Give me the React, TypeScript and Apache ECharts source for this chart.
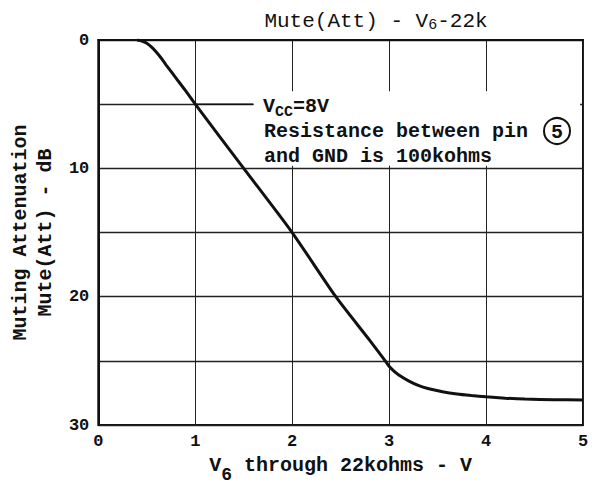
import { useEffect, useRef } from 'react';
import * as echarts from 'echarts';

// Curve: V6 (V) vs muting attenuation (dB)
const voltage = [0.4, 0.45, 0.5, 0.55, 0.6, 0.65, 0.7, 0.8, 0.9, 1.0, 1.5, 2.0, 2.45, 2.8, 2.96, 3.0, 3.05, 3.1, 3.2, 3.3, 3.4, 3.55, 3.7, 3.85, 4.0, 4.2, 4.4, 4.7, 5.0];
const attenuation = [0, 0.08, 0.25, 0.55, 0.95, 1.42, 1.95, 2.95, 3.95, 5.0, 10.0, 15.0, 20.0, 23.4, 25.0, 25.42, 25.8, 26.1, 26.55, 26.9, 27.15, 27.4, 27.58, 27.7, 27.8, 27.9, 27.97, 28.02, 28.05];
const yLabelValues = [0, 10, 20, 30];
// annotation leader line and its blank text area (data coords)
const leaderX = [1.0, 1.6];
const leaderY = [5, 5];
const noteBoxX = [1.6, 4.97];
const noteBoxY = [4.0, 9.8];
const noteLines = ['Resistance between pin', 'and GND is 100kohms'];

const FONT = 'Liberation Mono';
const INK = '#111';

export default function App() {
  const ref = useRef<HTMLDivElement>(null);
  useEffect(() => {
    if (!ref.current) return;
    const chart = echarts.init(ref.current, null, { renderer: 'svg' });
    const curve = voltage.map((v, i) => [v, attenuation[i]]);
    const leader = leaderX.map((v, i) => [v, leaderY[i]]);
    chart.setOption({
      animation: false,
      backgroundColor: '#fff',
      grid: { left: 96, right: 9, top: 40, bottom: 53, show: true, borderColor: INK, borderWidth: 2 },
      xAxis: {
        type: 'value', min: 0, max: 5, interval: 1,
        axisLine: { show: true, lineStyle: { color: INK, width: 2 } },
        axisTick: { show: false },
        splitLine: { show: true, lineStyle: { color: '#222', width: 1 } },
        axisLabel: { color: INK, fontFamily: FONT, fontWeight: 'bold', fontSize: 17, margin: 8 },
        name: '{a|V}{s|6}{a| through 22kohms - V}',
        nameLocation: 'middle',
        nameGap: 20,
        nameTextStyle: {
          verticalAlign: 'top',
          rich: {
            a: { fontFamily: FONT, fontWeight: 'bold', fontSize: 20, lineHeight: 20, color: INK, verticalAlign: 'top' },
            s: { fontFamily: FONT, fontWeight: 'bold', fontSize: 18, lineHeight: 18, padding: [11, 0, 0, 0], color: INK, verticalAlign: 'top' },
          },
        },
      },
      yAxis: {
        type: 'value', min: 0, max: 30, interval: 5, inverse: true,
        axisLine: { show: true, lineStyle: { color: INK, width: 2 } },
        axisTick: { show: false },
        splitLine: { show: true, lineStyle: { color: '#222', width: 1.3 } },
        axisLabel: {
          color: INK, fontFamily: FONT, fontWeight: 'bold', fontSize: 17, margin: 9,
          formatter: (v: number) => (yLabelValues.includes(v) ? String(v) : ''),
        },
        name: 'Muting Attenuation\nMute(Att) - dB',
        nameLocation: 'middle',
        nameRotate: 90,
        nameGap: 27,
        nameTextStyle: { color: INK, fontFamily: FONT, fontWeight: 'bold', fontSize: 20, lineHeight: 25 },
      },
      series: [
        {
          type: 'line',
          data: curve,
          smooth: 0.25,
          showSymbol: false,
          lineStyle: { color: INK, width: 3 },
          z: 5,
          markArea: {
            silent: true,
            itemStyle: { color: '#fff' },
            data: [[{ coord: [noteBoxX[0], noteBoxY[0]] }, { coord: [noteBoxX[1], noteBoxY[1]] }]],
          },
        },
        {
          type: 'line',
          data: leader,
          showSymbol: false,
          lineStyle: { color: INK, width: 1.5 },
          z: 4,
        },
      ],
      graphic: [
        {
          type: 'text', x: 376, y: 22, z: 100,
          style: {
            text: '{a|Mute(Att) - V}{s|6}{a|-22k}',
            align: 'center', verticalAlign: 'middle',
            rich: {
              a: { fontFamily: FONT, fontSize: 21, lineHeight: 22, fill: INK, verticalAlign: 'top' },
              s: { fontFamily: FONT, fontSize: 15, lineHeight: 15, padding: [7, 0, 0, 0], fill: INK, verticalAlign: 'top' },
            },
          },
        },
        {
          type: 'text', x: 263, y: 96, z: 100,
          style: {
            text: '{a|V}{s|CC}{a|=8V}',
            align: 'left', verticalAlign: 'top',
            rich: {
              a: { fontFamily: FONT, fontWeight: 'bold', fontSize: 20, lineHeight: 20, fill: INK, verticalAlign: 'top' },
              s: { fontFamily: FONT, fontWeight: 'bold', fontSize: 15, lineHeight: 15, padding: [9, 0, 0, 0], fill: INK, verticalAlign: 'top' },
            },
          },
        },
        {
          type: 'text', x: 264, y: 131, z: 100,
          style: { text: noteLines[0], fontFamily: FONT, fontWeight: 'bold', fontSize: 20, fill: INK, align: 'left', verticalAlign: 'middle' },
        },
        {
          type: 'circle', z: 100, shape: { cx: 557, cy: 131, r: 13 },
          style: { fill: '#fff', stroke: INK, lineWidth: 2 },
        },
        {
          type: 'text', x: 557, y: 132, z: 101,
          style: { text: '5', fontFamily: FONT, fontWeight: 'bold', fontSize: 20, fill: INK, align: 'center', verticalAlign: 'middle' },
        },
        {
          type: 'text', x: 264, y: 156, z: 100,
          style: { text: noteLines[1], fontFamily: FONT, fontWeight: 'bold', fontSize: 20, fill: INK, align: 'left', verticalAlign: 'middle' },
        },
      ],
    });
    return () => chart.dispose();
  }, []);
  return <div ref={ref} style={{ width: 592, height: 489, position: 'absolute', left: 0, top: 0 }} />;
}
